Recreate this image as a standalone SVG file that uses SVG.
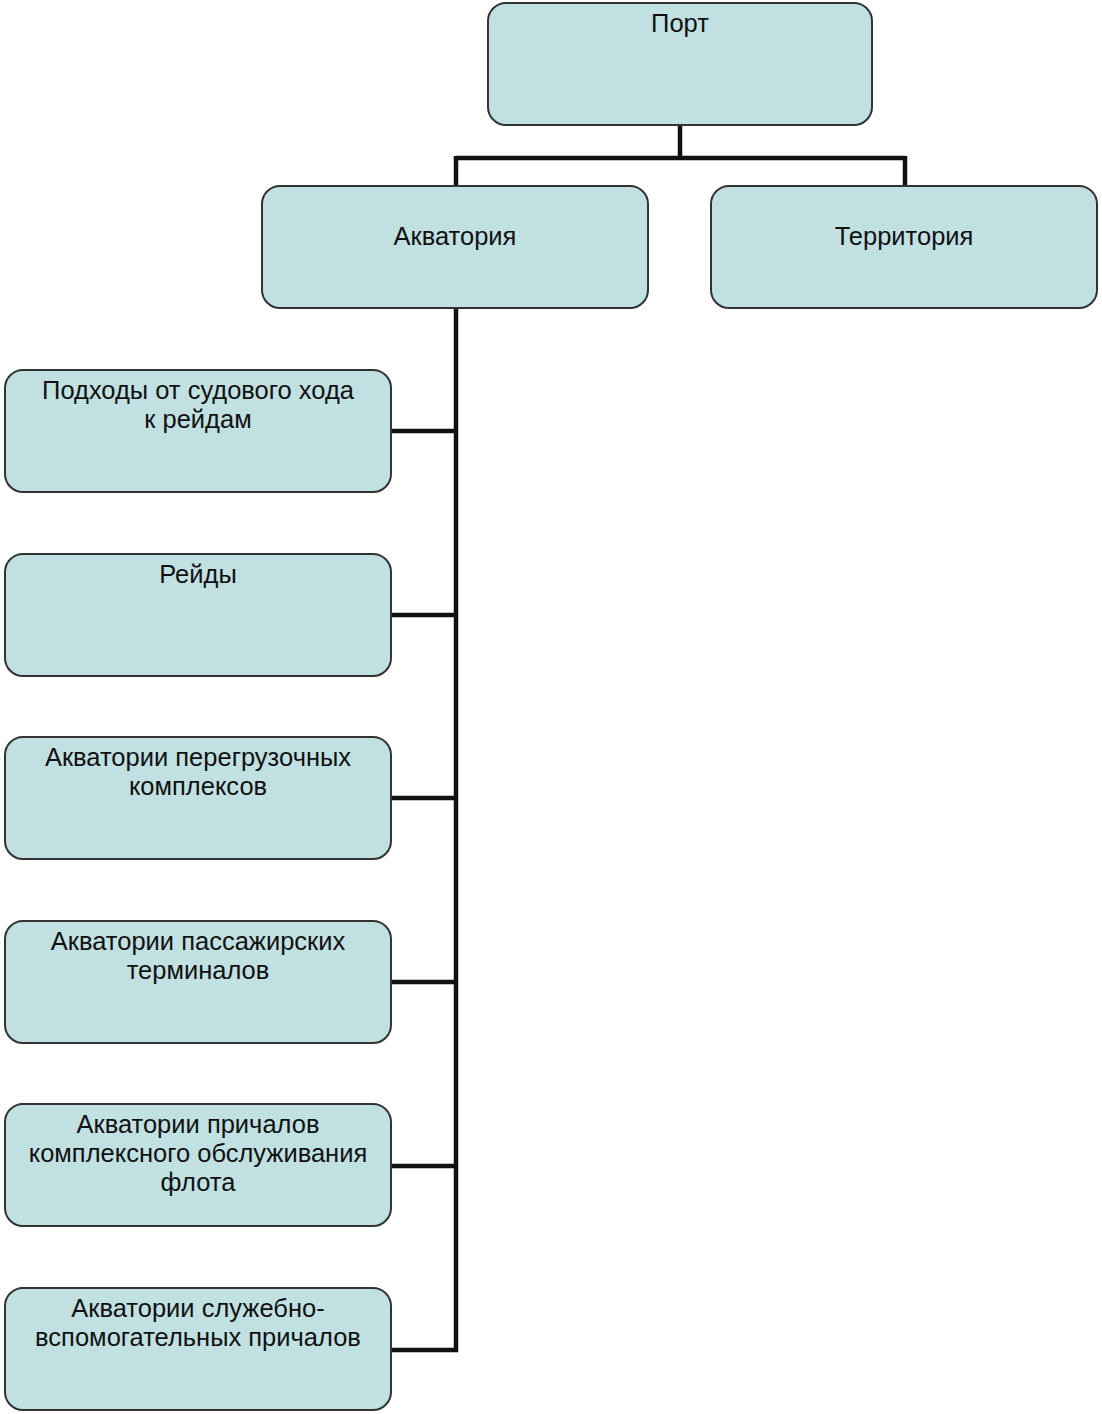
<svg xmlns="http://www.w3.org/2000/svg" width="1102" height="1414" viewBox="0 0 1102 1414">
<style>
.box{fill:#c0e0e1;stroke:#333;stroke-width:2}
.t{font-family:"Liberation Sans",Arial,sans-serif;font-size:25.5px;fill:#111;text-anchor:middle}
.c{fill:none;stroke:#111;stroke-width:4.5}
</style>
<rect width="1102" height="1414" fill="#fff"/>
<g id="connectors">
<path class="c" d="M680,125 V158 M456,158 H905 M456,156 V186 M905,156 V186"/>
<path class="c" d="M456,308 V1352 M391,431 H458 M391,615 H458 M391,798 H458 M391,982 H458 M391,1166 H458 M391,1350 H458"/>
</g>
<g id="port"><rect class="box" x="488" y="3" width="384" height="122" rx="18"/><text class="t" x="680" y="32">Порт</text></g>
<g id="akvatoriya"><rect class="box" x="262" y="186" width="386" height="122" rx="18"/><text class="t" x="455" y="245">Акватория</text></g>
<g id="territoriya"><rect class="box" x="711" y="186" width="386" height="122" rx="18"/><text class="t" x="904" y="245">Территория</text></g>
<g id="podkhody"><rect class="box" x="5" y="370" width="386" height="122" rx="18"/><text class="t" x="198" y="399">Подходы от судового хода</text><text class="t" x="198" y="428">к рейдам</text></g>
<g id="reidy"><rect class="box" x="5" y="554" width="386" height="122" rx="18"/><text class="t" x="198" y="583">Рейды</text></g>
<g id="peregruz"><rect class="box" x="5" y="737" width="386" height="122" rx="18"/><text class="t" x="198" y="766">Акватории перегрузочных</text><text class="t" x="198" y="795">комплексов</text></g>
<g id="passazh"><rect class="box" x="5" y="921" width="386" height="122" rx="18"/><text class="t" x="198" y="950">Акватории пассажирских</text><text class="t" x="198" y="979">терминалов</text></g>
<g id="prichaly"><rect class="box" x="5" y="1104" width="386" height="122" rx="18"/><text class="t" x="198" y="1133">Акватории причалов</text><text class="t" x="198" y="1162">комплексного обслуживания</text><text class="t" x="198" y="1191">флота</text></g>
<g id="sluzheb"><rect class="box" x="5" y="1288" width="386" height="122" rx="18"/><text class="t" x="198" y="1317">Акватории служебно-</text><text class="t" x="198" y="1346">вспомогательных причалов</text></g>
</svg>
